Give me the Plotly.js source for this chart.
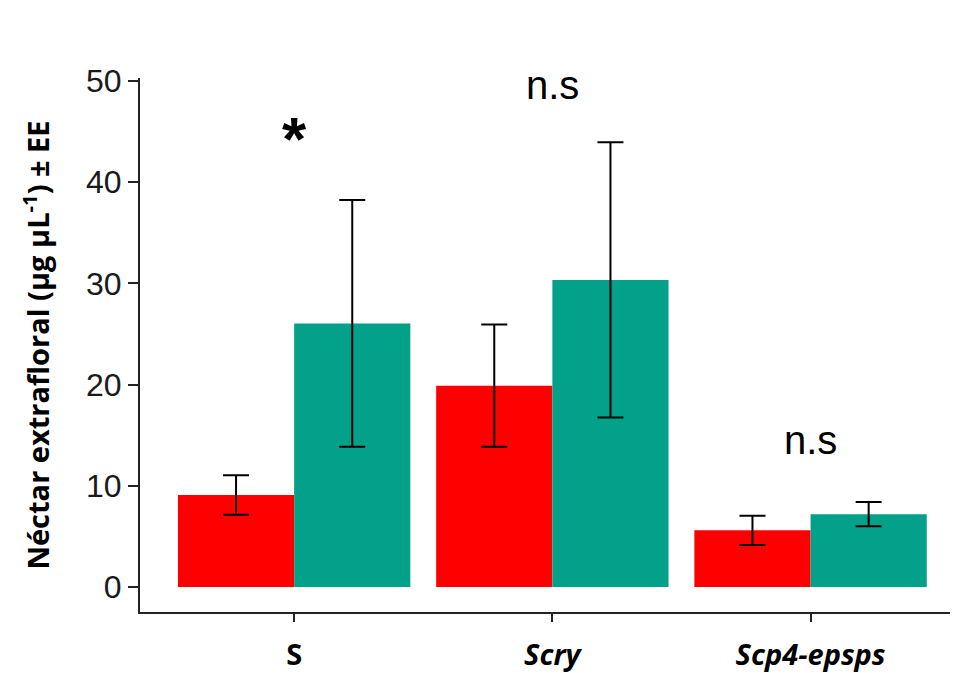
<!DOCTYPE html>
<html>
<head>
<meta charset="utf-8">
<script src="https://cdn.plot.ly/plotly-3.0.1.min.js"></script>
<style>html,body{margin:0;padding:0;background:#fff;}#chart{width:953px;height:673px;}</style>
</head>
<body>
<div id="chart"></div>
<script>
var categories = ["S", "Scry", "Scp4-epsps"];
var tickLabels = ["<b>S</b>", "<b><i>Scry</i></b>", "<b><i>Scp4-epsps</i></b>"];
var redValues = [9.1, 19.9, 5.6];
var redErrors = [1.95, 6.05, 1.45];
var tealValues = [26.05, 30.35, 7.2];
var tealErrors = [12.2, 13.6, 1.2];
var signifLabels = ["*", "n.s", "n.s"];
var signifY = [44.3, 49.6, 14.5];

var xIdx = categories.map(function(c, i){ return i; });

var errStyle = {type: "data", visible: true, color: "#000000", thickness: 2, width: 13};

var traces = [
  {type: "bar", x: xIdx, y: redValues, name: "red",
   marker: {color: "#FF0000", line: {width: 0}},
   error_y: Object.assign({array: redErrors}, errStyle)},
  {type: "bar", x: xIdx, y: tealValues, name: "teal",
   marker: {color: "#03A08A", line: {width: 0}},
   error_y: Object.assign({array: tealErrors}, errStyle)}
];

var annotations = signifLabels.map(function(t, i){
  var isStar = t === "*";
  return {x: xIdx[i], y: signifY[i], xref: "x", yref: "y", text: isStar ? "<b>*</b>" : t,
          showarrow: false, xanchor: "center", yanchor: "middle",
          font: {family: "Liberation Sans, Arial, sans-serif", size: isStar ? 62 : 40, color: "#000"}};
});

var layout = {
  width: 953, height: 673,
  margin: {l: 140, r: 3, t: 78, b: 61},
  paper_bgcolor: "#ffffff", plot_bgcolor: "#ffffff",
  showlegend: false,
  barmode: "group", bargap: 0.1, bargroupgap: 0,
  xaxis: {
    range: [-0.597, 2.54],
    tickvals: xIdx, ticktext: tickLabels,
    showgrid: false, zeroline: false,
    showline: true, linecolor: "#222", linewidth: 2,
    ticks: "outside", ticklen: 8, tickwidth: 2, tickcolor: "#222",
    ticklabelstandoff: 8,
    tickfont: {family: "Open Sans, sans-serif", size: 29, color: "#000"}
  },
  yaxis: {
    range: [-2.47, 50.3],
    tickvals: [0, 10, 20, 30, 40, 50],
    showgrid: false, zeroline: false,
    showline: true, linecolor: "#222", linewidth: 2,
    ticks: "outside", ticklen: 10, tickwidth: 2, tickcolor: "#222",
    tickfont: {family: "Liberation Sans, Arial, sans-serif", size: 32, color: "#1a1a1a"},
    title: {text: "<b>Néctar extrafloral (μg μL<sup>-1</sup>) ± EE</b>", standoff: 28,
            font: {family: "Open Sans, sans-serif", size: 29, color: "#000"}}
  },
  annotations: annotations
};

Plotly.newPlot("chart", traces, layout, {staticPlot: true, displayModeBar: false});
</script>
</body>
</html>
